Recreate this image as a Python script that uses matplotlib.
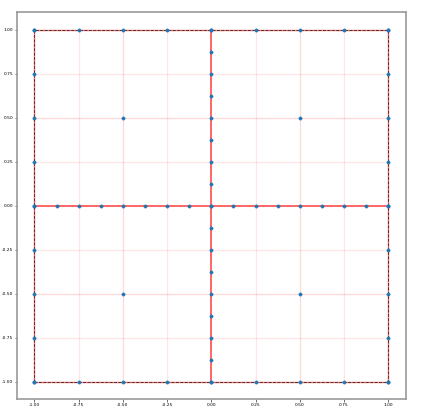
import matplotlib
matplotlib.use('Agg')
import matplotlib.pyplot as plt

# grid / mesh coordinates
grid_ticks = [-0.75, -0.5, -0.25, 0.25, 0.5, 0.75]
mid_ticks = [-0.5, 0.5]
edge = [-1.0, 1.0]

# nodes along the two centre lines (step 1/8)
axis_nodes = [-1.0, -0.875, -0.75, -0.625, -0.5, -0.375, -0.25, -0.125, 0.0,
              0.125, 0.25, 0.375, 0.5, 0.625, 0.75, 0.875, 1.0]
# nodes along the outer boundary (step 1/4)
boundary_nodes = [-1.0, -0.75, -0.5, -0.25, 0.0, 0.25, 0.5, 0.75, 1.0]
# interior nodes
inner_x = [-0.5, 0.5, -0.5, 0.5]
inner_y = [0.5, 0.5, -0.5, -0.5]

fig = plt.figure(figsize=(14.1, 13.77), dpi=30)
ax = fig.add_axes([0.0395, 0.033, 0.92, 0.937])

# faint mesh lines
for t in grid_ticks:
    ax.plot(edge, [t, t], color='red', alpha=0.1, lw=3)
    ax.plot([t, t], edge, color='red', alpha=0.1, lw=3)
for t in mid_ticks:
    ax.plot(edge, [t, t], color='red', alpha=0.05, lw=3)
    ax.plot([t, t], edge, color='red', alpha=0.05, lw=3)

# centre lines
ax.plot(edge, [0, 0], color='red', alpha=0.7, lw=4)
ax.plot([0, 0], edge, color='red', alpha=0.7, lw=4)

# boundary: red under black dashes
bx = [-1, 1, 1, -1, -1]
by = [-1, -1, 1, 1, -1]
ax.plot(bx, by, color='red', alpha=0.5, lw=3.5)
ax.plot(bx, by, 'k--', lw=2.0, alpha=0.75)

# nodes
pts_x, pts_y = [], []
for v in axis_nodes:
    pts_x += [v, 0.0]
    pts_y += [0.0, v]
for v in boundary_nodes:
    pts_x += [v, v, -1.0, 1.0]
    pts_y += [-1.0, 1.0, v, v]
pts_x += inner_x
pts_y += inner_y
ax.plot(pts_x, pts_y, 'o', color='C0', markersize=8, linestyle='none')

ax.set_xlim(-1.1, 1.1)
ax.set_ylim(-1.1, 1.1)
ax.set_xticks(boundary_nodes)
ax.set_yticks(boundary_nodes)
ax.set_xticklabels([f'{v:.2f}' for v in boundary_nodes])
ax.set_yticklabels([f'{v:.2f}' for v in boundary_nodes])
ax.tick_params(labelsize=10.5, length=6, width=2, color='#555555', pad=2)
for s in ax.spines.values():
    s.set_linewidth(4)
    s.set_color('#999999')

fig.savefig('out.png', dpi=30)
